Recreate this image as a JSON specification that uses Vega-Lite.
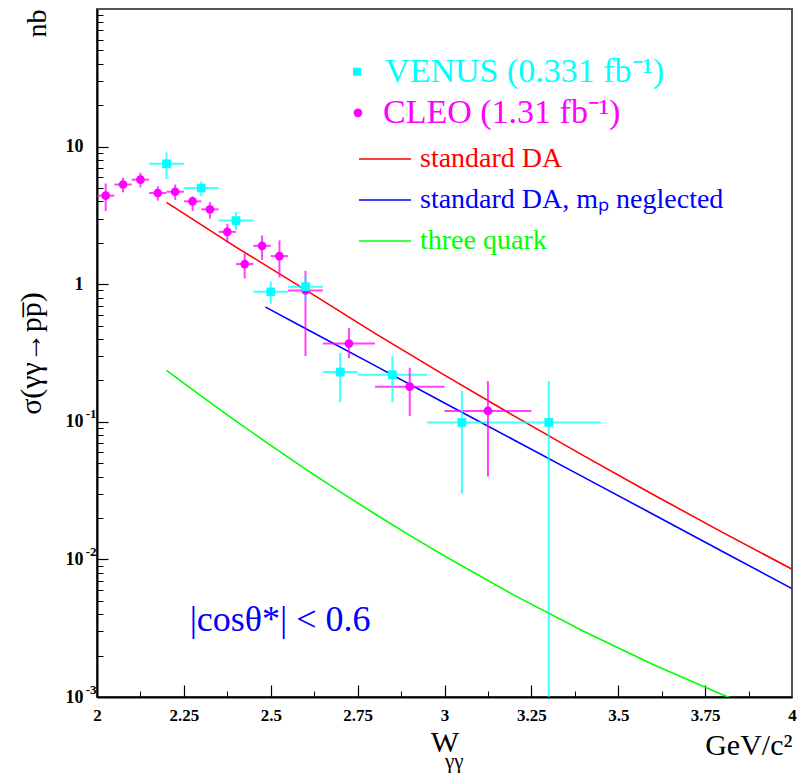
{
  "$schema": "https://vega.github.io/schema/vega-lite/v6.json",
  "width": 695,
  "height": 688,
  "autosize": {"type": "none"},
  "padding": {"left": 97, "top": 9, "right": 14, "bottom": 77},
  "background": "white",
  "config": {
    "font": "Liberation Serif",
    "view": {"stroke": "#555555", "strokeWidth": 2},
    "axis": {
      "grid": false,
      "tickColor": "black",
      "labelColor": "black",
      "titleColor": "black",
      "domainColor": "black",
      "titleFontWeight": "normal",
      "labelFont": "Liberation Serif",
      "titleFont": "Liberation Serif"
    }
  },
  "datasets": {
    "measurements": [
      {"series": "CLEO", "w": 2.025, "sigma": 4.4, "w_lo": 2.0, "w_hi": 2.05, "s_lo": 3.4, "s_hi": 5.4},
      {"series": "CLEO", "w": 2.075, "sigma": 5.3, "w_lo": 2.05, "w_hi": 2.1, "s_lo": 4.65, "s_hi": 5.95},
      {"series": "CLEO", "w": 2.125, "sigma": 5.75, "w_lo": 2.1, "w_hi": 2.15, "s_lo": 5.05, "s_hi": 6.45},
      {"series": "CLEO", "w": 2.175, "sigma": 4.6, "w_lo": 2.15, "w_hi": 2.2, "s_lo": 4.05, "s_hi": 5.15},
      {"series": "CLEO", "w": 2.225, "sigma": 4.7, "w_lo": 2.2, "w_hi": 2.25, "s_lo": 4.1, "s_hi": 5.3},
      {"series": "CLEO", "w": 2.275, "sigma": 4.0, "w_lo": 2.25, "w_hi": 2.3, "s_lo": 3.4, "s_hi": 4.35},
      {"series": "CLEO", "w": 2.325, "sigma": 3.5, "w_lo": 2.3, "w_hi": 2.35, "s_lo": 3.0, "s_hi": 3.95},
      {"series": "CLEO", "w": 2.375, "sigma": 2.4, "w_lo": 2.35, "w_hi": 2.4, "s_lo": 2.0, "s_hi": 2.75},
      {"series": "CLEO", "w": 2.425, "sigma": 1.4, "w_lo": 2.4, "w_hi": 2.45, "s_lo": 1.1, "s_hi": 1.66},
      {"series": "CLEO", "w": 2.475, "sigma": 1.9, "w_lo": 2.45, "w_hi": 2.5, "s_lo": 1.5, "s_hi": 2.26},
      {"series": "CLEO", "w": 2.525, "sigma": 1.6, "w_lo": 2.5, "w_hi": 2.55, "s_lo": 1.12, "s_hi": 2.08},
      {"series": "CLEO", "w": 2.6, "sigma": 0.9, "w_lo": 2.55, "w_hi": 2.65, "s_lo": 0.3, "s_hi": 1.25},
      {"series": "CLEO", "w": 2.725, "sigma": 0.37, "w_lo": 2.65, "w_hi": 2.8, "s_lo": 0.29, "s_hi": 0.48},
      {"series": "CLEO", "w": 2.9, "sigma": 0.18, "w_lo": 2.8, "w_hi": 3.0, "s_lo": 0.11, "s_hi": 0.247},
      {"series": "CLEO", "w": 3.125, "sigma": 0.12, "w_lo": 3.0, "w_hi": 3.25, "s_lo": 0.04, "s_hi": 0.198},
      {"series": "VENUS", "w": 2.2, "sigma": 7.5, "w_lo": 2.15, "w_hi": 2.25, "s_lo": 5.8, "s_hi": 9.1},
      {"series": "VENUS", "w": 2.3, "sigma": 5.0, "w_lo": 2.25, "w_hi": 2.35, "s_lo": 4.36, "s_hi": 5.6},
      {"series": "VENUS", "w": 2.4, "sigma": 2.9, "w_lo": 2.35, "w_hi": 2.45, "s_lo": 2.48, "s_hi": 3.34},
      {"series": "VENUS", "w": 2.5, "sigma": 0.88, "w_lo": 2.45, "w_hi": 2.55, "s_lo": 0.72, "s_hi": 1.05},
      {"series": "VENUS", "w": 2.6, "sigma": 0.96, "w_lo": 2.55, "w_hi": 2.65, "s_lo": 0.76, "s_hi": 1.16},
      {"series": "VENUS", "w": 2.7, "sigma": 0.23, "w_lo": 2.65, "w_hi": 2.75, "s_lo": 0.139, "s_hi": 0.316},
      {"series": "VENUS", "w": 2.85, "sigma": 0.22, "w_lo": 2.75, "w_hi": 2.95, "s_lo": 0.139, "s_hi": 0.3},
      {"series": "VENUS", "w": 3.05, "sigma": 0.099, "w_lo": 2.95, "w_hi": 3.15, "s_lo": 0.03, "s_hi": 0.168},
      {"series": "VENUS", "w": 3.3, "sigma": 0.099, "w_lo": 3.15, "w_hi": 3.45, "s_lo": 0.0001, "s_hi": 0.198}
    ],
    "models": [
      {"model": "standard DA", "w": 2.2, "sigma": 3.93},
      {"model": "standard DA", "w": 2.4, "sigma": 1.861},
      {"model": "standard DA", "w": 2.6, "sigma": 0.909},
      {"model": "standard DA", "w": 2.8, "sigma": 0.439},
      {"model": "standard DA", "w": 3.0, "sigma": 0.2185},
      {"model": "standard DA", "w": 3.2, "sigma": 0.1104},
      {"model": "standard DA", "w": 3.4, "sigma": 0.05675},
      {"model": "standard DA", "w": 3.6, "sigma": 0.02965},
      {"model": "standard DA", "w": 3.8, "sigma": 0.01573},
      {"model": "standard DA", "w": 4.0, "sigma": 0.00849},
      {"model": "standard DA, mₚ neglected", "w": 2.485, "sigma": 0.681},
      {"model": "standard DA, mₚ neglected", "w": 2.6, "sigma": 0.476},
      {"model": "standard DA, mₚ neglected", "w": 2.8, "sigma": 0.256},
      {"model": "standard DA, mₚ neglected", "w": 3.0, "sigma": 0.137},
      {"model": "standard DA, mₚ neglected", "w": 3.2, "sigma": 0.0738},
      {"model": "standard DA, mₚ neglected", "w": 3.4, "sigma": 0.0396},
      {"model": "standard DA, mₚ neglected", "w": 3.6, "sigma": 0.0213},
      {"model": "standard DA, mₚ neglected", "w": 3.8, "sigma": 0.0114},
      {"model": "standard DA, mₚ neglected", "w": 4.0, "sigma": 0.00614},
      {"model": "three quark", "w": 2.2, "sigma": 0.2366},
      {"model": "three quark", "w": 2.3, "sigma": 0.1537},
      {"model": "three quark", "w": 2.4, "sigma": 0.1011},
      {"model": "three quark", "w": 2.5, "sigma": 0.0673},
      {"model": "three quark", "w": 2.6, "sigma": 0.04535},
      {"model": "three quark", "w": 2.7, "sigma": 0.03095},
      {"model": "three quark", "w": 2.8, "sigma": 0.02138},
      {"model": "three quark", "w": 2.9, "sigma": 0.01495},
      {"model": "three quark", "w": 3.0, "sigma": 0.01058},
      {"model": "three quark", "w": 3.2, "sigma": 0.0055},
      {"model": "three quark", "w": 3.4, "sigma": 0.003006},
      {"model": "three quark", "w": 3.6, "sigma": 0.001724},
      {"model": "three quark", "w": 3.8, "sigma": 0.001039},
      {"model": "three quark", "w": 4.0, "sigma": 0.000657}
    ]
  },
  "resolve": {"axis": {"x": "independent", "y": "independent"}},
  "layer": [
    {
      "data": {"name": "models"},
      "mark": {"type": "line", "strokeWidth": 1.6, "clip": true},
      "encoding": {
        "x": {
          "field": "w", "type": "quantitative",
          "scale": {"domain": [2, 4], "nice": false, "zero": false},
          "axis": {
            "orient": "bottom",
            "values": [2, 2.25, 2.5, 2.75, 3, 3.25, 3.5, 3.75, 4],
            "format": ".2~f",
            "ticks": false,
            "domain": true, "domainWidth": 2,
            "labelFontSize": 17, "labelFontWeight": "bold",
            "labelPadding": 10, "labelFlush": false, "labelOverlap": false,
            "title": "W", "titleFontSize": 30,
            "titleAnchor": "middle", "titleAlign": "center", "titlePadding": 4
          }
        },
        "y": {
          "field": "sigma", "type": "quantitative",
          "scale": {"type": "log", "domain": [0.001, 100], "nice": false},
          "axis": {
            "orient": "left",
            "values": [0.001, 0.01, 0.1, 1, 10],
            "labelExpr": "datum.value == 1 ? '1' : '10'",
            "ticks": false,
            "domain": true, "domainWidth": 2,
            "labelFontSize": 18, "labelFontWeight": "bold",
            "labelPadding": 14, "labelOverlap": false,
            "title": "σ(γγ→pp̅)", "titleFontSize": 30,
            "titleAnchor": "middle", "titlePadding": 19
          }
        },
        "stroke": {
          "field": "model", "type": "nominal",
          "scale": {
            "domain": ["standard DA", "standard DA, mₚ neglected", "three quark"],
            "range": ["#ff0000", "#0000ff", "#00ff00"]
          },
          "legend": {
            "orient": "none", "legendX": 261, "legendY": 123,
            "title": null, "padding": 0,
            "labelFontSize": 28, "labelLimit": 600, "labelOffset": 8,
            "symbolType": "stroke", "symbolSize": 2704, "symbolStrokeWidth": 1.6,
            "rowPadding": -10,
            "encode": {"labels": {"update": {"fill": {"signal": "scale('stroke', datum.value)"}}}}
          }
        }
      }
    },
    {
      "data": {"name": "measurements"},
      "mark": {"type": "rule", "strokeWidth": 2, "opacity": 0.75, "clip": true},
      "encoding": {
        "x": {
          "field": "w_lo", "type": "quantitative",
          "scale": {"domain": [2, 4], "nice": false, "zero": false},
          "axis": {
            "orient": "bottom",
            "values": [2.25, 2.5, 2.75, 3, 3.25, 3.5, 3.75],
            "labels": false, "domain": false,
            "ticks": true, "tickSize": -12, "tickWidth": 1.2,
            "title": "γγ", "titleFontSize": 21,
            "titleAnchor": "middle", "titleAlign": "left", "titlePadding": 53
          }
        },
        "x2": {"field": "w_hi"},
        "y": {
          "field": "sigma", "type": "quantitative",
          "scale": {"type": "log", "domain": [0.001, 100], "nice": false},
          "axis": {
            "orient": "left",
            "values": [0.01, 0.1, 1, 10],
            "labels": false, "domain": false,
            "ticks": true, "tickSize": -11, "tickWidth": 1.2,
            "title": null
          }
        },
        "color": {
          "field": "series", "type": "nominal",
          "scale": {"domain": ["VENUS", "CLEO"], "range": ["#00ffff", "#ff00ff"]},
          "legend": null
        }
      }
    },
    {
      "data": {"name": "measurements"},
      "mark": {"type": "rule", "strokeWidth": 2, "opacity": 0.75, "clip": true},
      "encoding": {
        "x": {
          "field": "w", "type": "quantitative",
          "scale": {"domain": [2, 4], "nice": false, "zero": false},
          "axis": {
            "orient": "bottom",
            "values": [2.125, 2.375, 2.625, 2.875, 3.125, 3.375, 3.625, 3.875],
            "labels": false, "domain": false,
            "ticks": true, "tickSize": -6, "tickWidth": 1,
            "title": "GeV/c²", "titleFontSize": 30,
            "titleAnchor": "end", "titleAlign": "right", "titlePadding": 33
          }
        },
        "y": {
          "field": "s_lo", "type": "quantitative",
          "scale": {"type": "log", "domain": [0.001, 100], "nice": false},
          "axis": {
            "orient": "left",
            "values": [0.002, 0.003, 0.004, 0.005, 0.006, 0.007, 0.008, 0.009,
                       0.02, 0.03, 0.04, 0.05, 0.06, 0.07, 0.08, 0.09,
                       0.2, 0.3, 0.4, 0.5, 0.6, 0.7, 0.8, 0.9,
                       2, 3, 4, 5, 6, 7, 8, 9,
                       20, 30, 40, 50, 60, 70, 80, 90],
            "labels": false, "domain": false,
            "ticks": true, "tickSize": -6, "tickWidth": 1,
            "title": null
          }
        },
        "y2": {"field": "s_hi"},
        "color": {
          "field": "series", "type": "nominal",
          "scale": {"domain": ["VENUS", "CLEO"], "range": ["#00ffff", "#ff00ff"]},
          "legend": null
        }
      }
    },
    {
      "data": {"name": "measurements"},
      "mark": {"type": "point", "filled": true, "opacity": 1, "size": 75, "clip": true},
      "encoding": {
        "x": {
          "field": "w", "type": "quantitative",
          "scale": {"domain": [2, 4], "nice": false, "zero": false},
          "axis": null
        },
        "y": {
          "field": "sigma", "type": "quantitative",
          "scale": {"type": "log", "domain": [0.001, 100], "nice": false},
          "axis": {
            "orient": "left",
            "values": [0.001, 0.01, 0.1],
            "labelExpr": "datum.value == 0.1 ? '-1' : datum.value == 0.01 ? '-2' : '-3'",
            "ticks": false, "domain": false,
            "labelFontSize": 13, "labelFontWeight": "bold",
            "labelPadding": 1, "labelOffset": -8, "labelOverlap": false,
            "title": "nb", "titleFontSize": 28,
            "titleAnchor": "end", "titlePadding": 34
          }
        },
        "color": {
          "field": "series", "type": "nominal",
          "scale": {"domain": ["VENUS", "CLEO"], "range": ["#00ffff", "#ff00ff"]},
          "legend": null
        },
        "shape": {
          "field": "series", "type": "nominal",
          "scale": {"domain": ["VENUS", "CLEO"], "range": ["square", "circle"]},
          "legend": null
        }
      }
    },
    {
      "data": {"values": [{}]},
      "mark": {"type": "point", "shape": "square", "filled": true, "opacity": 1, "color": "#00ffff", "size": 64},
      "encoding": {
        "x": {"datum": 2.748, "type": "quantitative", "scale": {"domain": [2, 4], "nice": false, "zero": false}, "axis": null},
        "y": {"datum": 35.0, "type": "quantitative", "scale": {"type": "log", "domain": [0.001, 100], "nice": false}, "axis": null}
      }
    },
    {
      "data": {"values": [{}]},
      "mark": {"type": "text", "fontSize": 34, "color": "#00ffff", "align": "left", "baseline": "middle"},
      "encoding": {
        "x": {"datum": 2.829, "type": "quantitative", "scale": {"domain": [2, 4], "nice": false, "zero": false}, "axis": null},
        "y": {"datum": 35.0, "type": "quantitative", "scale": {"type": "log", "domain": [0.001, 100], "nice": false}, "axis": null},
        "text": {"value": "VENUS (0.331 fb⁻¹)"}
      }
    },
    {
      "data": {"values": [{}]},
      "mark": {"type": "point", "shape": "circle", "filled": true, "opacity": 1, "color": "#ff00ff", "size": 75},
      "encoding": {
        "x": {"datum": 2.751, "type": "quantitative", "scale": {"domain": [2, 4], "nice": false, "zero": false}, "axis": null},
        "y": {"datum": 17.6, "type": "quantitative", "scale": {"type": "log", "domain": [0.001, 100], "nice": false}, "axis": null}
      }
    },
    {
      "data": {"values": [{}]},
      "mark": {"type": "text", "fontSize": 34, "color": "#ff00ff", "align": "left", "baseline": "middle"},
      "encoding": {
        "x": {"datum": 2.823, "type": "quantitative", "scale": {"domain": [2, 4], "nice": false, "zero": false}, "axis": null},
        "y": {"datum": 17.6, "type": "quantitative", "scale": {"type": "log", "domain": [0.001, 100], "nice": false}, "axis": null},
        "text": {"value": "CLEO (1.31 fb⁻¹)"}
      }
    },
    {
      "data": {"values": [{}]},
      "mark": {"type": "text", "fontSize": 36, "color": "#0000ff", "align": "center", "baseline": "middle"},
      "encoding": {
        "x": {"datum": 2.527, "type": "quantitative", "scale": {"domain": [2, 4], "nice": false, "zero": false}, "axis": null},
        "y": {"datum": 0.00362, "type": "quantitative", "scale": {"type": "log", "domain": [0.001, 100], "nice": false}, "axis": null},
        "text": {"value": "|cosθ*| < 0.6"}
      }
    }
  ]
}
